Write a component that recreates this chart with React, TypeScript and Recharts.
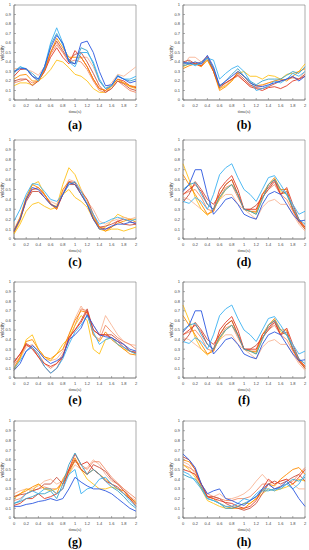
import React from 'react';
import { LineChart, Line, XAxis, YAxis, ReferenceArea } from 'recharts';

const times = [0, 0.1, 0.2, 0.3, 0.4, 0.5, 0.6, 0.7, 0.8, 0.9, 1, 1.1, 1.2, 1.3, 1.4, 1.5, 1.6, 1.7, 1.8, 1.9, 2];
const xTicks = [0, 0.2, 0.4, 0.6, 0.8, 1, 1.2, 1.4, 1.6, 1.8, 2];
const yTicks = [0, 0.1, 0.2, 0.3, 0.4, 0.5, 0.6, 0.7, 0.8, 0.9, 1];
const panelLabels = ['(a)', '(b)', '(c)', '(d)', '(e)', '(f)', '(g)', '(h)'];

const COLORS: Record<string, string> = {
  blue: '#2b57e0',
  sky: '#3cb2f2',
  yellow: '#ffc21a',
  orange: '#ff8c00',
  red: '#e23a26',
  peach: '#f8b596',
  brown: '#c9503f',
  salmon: '#f08a66',
  teal: '#3aa3c8',
};

type S = { c: string; v: number[] };

const panelA: S[] = [
  { c: 'peach', v: [0.33,0.33,0.32,0.3,0.26,0.35,0.55,0.6,0.5,0.4,0.38,0.45,0.45,0.35,0.2,0.12,0.18,0.27,0.25,0.3,0.35] },
  { c: 'yellow', v: [0.15,0.18,0.18,0.16,0.2,0.25,0.32,0.42,0.4,0.34,0.27,0.25,0.2,0.12,0.08,0.08,0.14,0.2,0.18,0.14,0.12] },
  { c: 'salmon', v: [0.18,0.2,0.22,0.18,0.2,0.3,0.48,0.58,0.5,0.4,0.42,0.4,0.32,0.2,0.1,0.08,0.12,0.2,0.15,0.1,0.08] },
  { c: 'brown', v: [0.2,0.22,0.22,0.15,0.2,0.32,0.5,0.62,0.52,0.42,0.48,0.5,0.4,0.28,0.15,0.08,0.12,0.2,0.17,0.12,0.1] },
  { c: 'red', v: [0.25,0.32,0.33,0.25,0.2,0.3,0.45,0.55,0.45,0.38,0.52,0.45,0.35,0.22,0.12,0.1,0.15,0.22,0.2,0.15,0.13] },
  { c: 'orange', v: [0.22,0.26,0.27,0.2,0.2,0.32,0.5,0.65,0.55,0.45,0.45,0.45,0.35,0.22,0.12,0.1,0.15,0.22,0.18,0.15,0.14] },
  { c: 'teal', v: [0.3,0.35,0.32,0.28,0.22,0.33,0.58,0.7,0.58,0.42,0.38,0.55,0.52,0.38,0.2,0.12,0.15,0.26,0.22,0.2,0.22] },
  { c: 'sky', v: [0.28,0.35,0.33,0.25,0.2,0.35,0.6,0.76,0.6,0.4,0.35,0.5,0.5,0.4,0.22,0.12,0.15,0.25,0.22,0.22,0.25] },
  { c: 'blue', v: [0.3,0.33,0.33,0.25,0.22,0.35,0.55,0.68,0.6,0.4,0.38,0.6,0.62,0.5,0.3,0.15,0.16,0.25,0.22,0.18,0.2] },
];

const panelB: S[] = [
  { c: 'peach', v: [0.35,0.45,0.45,0.4,0.44,0.32,0.12,0.16,0.22,0.25,0.2,0.15,0.14,0.15,0.18,0.2,0.2,0.22,0.23,0.22,0.3] },
  { c: 'yellow', v: [0.35,0.38,0.4,0.36,0.42,0.3,0.12,0.15,0.2,0.28,0.3,0.25,0.25,0.22,0.26,0.25,0.22,0.27,0.28,0.3,0.38] },
  { c: 'orange', v: [0.33,0.36,0.38,0.35,0.42,0.3,0.1,0.14,0.2,0.3,0.25,0.18,0.15,0.16,0.18,0.2,0.22,0.2,0.25,0.3,0.33] },
  { c: 'red', v: [0.38,0.4,0.38,0.36,0.45,0.3,0.13,0.18,0.22,0.26,0.2,0.14,0.12,0.1,0.13,0.14,0.12,0.15,0.2,0.22,0.25] },
  { c: 'brown', v: [0.4,0.42,0.38,0.4,0.46,0.33,0.15,0.18,0.22,0.28,0.22,0.16,0.13,0.12,0.14,0.17,0.2,0.22,0.24,0.22,0.27] },
  { c: 'teal', v: [0.36,0.38,0.37,0.38,0.44,0.33,0.14,0.2,0.27,0.33,0.25,0.2,0.16,0.2,0.22,0.22,0.22,0.26,0.3,0.28,0.35] },
  { c: 'sky', v: [0.38,0.4,0.36,0.4,0.44,0.42,0.22,0.28,0.33,0.36,0.3,0.2,0.1,0.12,0.15,0.2,0.18,0.22,0.28,0.25,0.3] },
  { c: 'blue', v: [0.4,0.38,0.4,0.38,0.47,0.35,0.15,0.2,0.25,0.3,0.25,0.18,0.15,0.14,0.16,0.18,0.2,0.22,0.25,0.2,0.25] },
];

const panelC: S[] = [
  { c: 'yellow', v: [0.05,0.15,0.28,0.35,0.37,0.33,0.3,0.32,0.45,0.5,0.42,0.38,0.32,0.2,0.1,0.12,0.18,0.25,0.22,0.2,0.2] },
  { c: 'yellow', v: [0.06,0.18,0.4,0.55,0.58,0.45,0.35,0.33,0.55,0.72,0.65,0.5,0.38,0.22,0.1,0.08,0.1,0.1,0.08,0.1,0.12] },
  { c: 'peach', v: [0.1,0.22,0.42,0.5,0.5,0.44,0.38,0.35,0.48,0.6,0.58,0.5,0.38,0.3,0.18,0.15,0.18,0.2,0.22,0.2,0.22] },
  { c: 'brown', v: [0.09,0.2,0.38,0.48,0.48,0.42,0.35,0.32,0.45,0.55,0.55,0.48,0.4,0.25,0.12,0.13,0.15,0.18,0.15,0.14,0.15] },
  { c: 'red', v: [0.07,0.2,0.4,0.5,0.52,0.45,0.36,0.3,0.45,0.58,0.57,0.45,0.35,0.2,0.12,0.1,0.12,0.18,0.2,0.18,0.15] },
  { c: 'orange', v: [0.08,0.22,0.42,0.55,0.52,0.45,0.35,0.3,0.5,0.58,0.55,0.45,0.35,0.22,0.12,0.08,0.12,0.16,0.18,0.2,0.17] },
  { c: 'sky', v: [0.18,0.3,0.45,0.56,0.55,0.48,0.4,0.38,0.45,0.55,0.58,0.48,0.35,0.25,0.15,0.17,0.2,0.22,0.2,0.18,0.2] },
  { c: 'blue', v: [0.08,0.2,0.4,0.52,0.5,0.42,0.35,0.32,0.45,0.57,0.55,0.45,0.35,0.2,0.1,0.1,0.13,0.15,0.15,0.17,0.16] },
];

const panelD: S[] = [
  { c: 'peach', v: [0.42,0.4,0.35,0.3,0.25,0.3,0.4,0.45,0.45,0.35,0.3,0.25,0.2,0.32,0.38,0.4,0.35,0.35,0.25,0.15,0.08] },
  { c: 'salmon', v: [0.45,0.48,0.5,0.42,0.3,0.28,0.42,0.52,0.55,0.42,0.3,0.28,0.28,0.42,0.5,0.55,0.45,0.4,0.28,0.17,0.1] },
  { c: 'yellow', v: [0.76,0.6,0.42,0.3,0.24,0.3,0.4,0.5,0.55,0.45,0.3,0.28,0.25,0.4,0.55,0.6,0.48,0.45,0.3,0.2,0.1] },
  { c: 'orange', v: [0.65,0.55,0.45,0.35,0.25,0.28,0.45,0.55,0.6,0.45,0.3,0.28,0.27,0.45,0.55,0.62,0.5,0.5,0.3,0.18,0.12] },
  { c: 'brown', v: [0.37,0.45,0.58,0.5,0.4,0.35,0.45,0.55,0.6,0.45,0.3,0.3,0.34,0.42,0.5,0.58,0.45,0.48,0.3,0.18,0.1] },
  { c: 'red', v: [0.45,0.5,0.55,0.48,0.35,0.3,0.5,0.58,0.64,0.5,0.3,0.3,0.3,0.45,0.52,0.6,0.45,0.52,0.35,0.2,0.12] },
  { c: 'teal', v: [0.5,0.55,0.57,0.45,0.35,0.3,0.42,0.5,0.55,0.45,0.3,0.28,0.25,0.4,0.55,0.6,0.5,0.45,0.32,0.2,0.15] },
  { c: 'sky', v: [0.38,0.36,0.42,0.38,0.3,0.45,0.65,0.72,0.76,0.62,0.5,0.45,0.38,0.5,0.62,0.64,0.55,0.45,0.35,0.25,0.28] },
  { c: 'blue', v: [0.48,0.55,0.7,0.7,0.45,0.25,0.32,0.4,0.42,0.35,0.25,0.22,0.2,0.35,0.45,0.48,0.45,0.35,0.25,0.18,0.19] },
];

const panelE: S[] = [
  { c: 'peach', v: [0.12,0.2,0.32,0.35,0.28,0.2,0.18,0.2,0.28,0.45,0.62,0.75,0.65,0.55,0.45,0.65,0.55,0.45,0.38,0.35,0.34] },
  { c: 'salmon', v: [0.14,0.22,0.34,0.32,0.25,0.15,0.1,0.15,0.25,0.38,0.55,0.72,0.7,0.45,0.4,0.55,0.48,0.42,0.38,0.35,0.3] },
  { c: 'yellow', v: [0.08,0.2,0.4,0.45,0.3,0.22,0.18,0.25,0.35,0.42,0.55,0.65,0.6,0.3,0.25,0.4,0.42,0.35,0.3,0.28,0.25] },
  { c: 'orange', v: [0.1,0.22,0.38,0.4,0.3,0.22,0.2,0.25,0.3,0.45,0.6,0.7,0.68,0.45,0.38,0.48,0.4,0.35,0.3,0.25,0.24] },
  { c: 'brown', v: [0.16,0.25,0.36,0.32,0.22,0.12,0.05,0.1,0.22,0.42,0.5,0.6,0.72,0.5,0.45,0.45,0.45,0.4,0.35,0.28,0.27] },
  { c: 'red', v: [0.17,0.25,0.35,0.3,0.22,0.15,0.12,0.15,0.22,0.42,0.5,0.58,0.7,0.5,0.45,0.45,0.42,0.38,0.32,0.28,0.26] },
  { c: 'sky', v: [0.1,0.18,0.28,0.32,0.25,0.12,0.05,0.1,0.2,0.35,0.48,0.55,0.65,0.48,0.35,0.4,0.42,0.35,0.32,0.28,0.25] },
  { c: 'blue', v: [0.08,0.15,0.28,0.34,0.28,0.2,0.15,0.18,0.22,0.4,0.45,0.52,0.66,0.55,0.45,0.43,0.42,0.38,0.35,0.3,0.28] },
];

const panelF: S[] = panelD;

const panelG: S[] = [
  { c: 'peach', v: [0.25,0.28,0.3,0.3,0.33,0.38,0.4,0.35,0.38,0.45,0.55,0.5,0.52,0.6,0.55,0.45,0.38,0.35,0.3,0.22,0.18] },
  { c: 'salmon', v: [0.18,0.2,0.25,0.28,0.3,0.32,0.3,0.3,0.38,0.5,0.58,0.55,0.5,0.58,0.58,0.5,0.42,0.36,0.3,0.25,0.2] },
  { c: 'yellow', v: [0.2,0.25,0.3,0.28,0.35,0.3,0.28,0.3,0.35,0.45,0.6,0.5,0.4,0.35,0.3,0.3,0.32,0.3,0.25,0.2,0.17] },
  { c: 'orange', v: [0.22,0.25,0.28,0.32,0.35,0.3,0.3,0.25,0.4,0.5,0.62,0.5,0.45,0.5,0.45,0.4,0.35,0.3,0.28,0.2,0.14] },
  { c: 'brown', v: [0.22,0.24,0.25,0.28,0.3,0.35,0.35,0.42,0.35,0.48,0.6,0.5,0.45,0.55,0.52,0.48,0.4,0.35,0.28,0.22,0.15] },
  { c: 'red', v: [0.13,0.15,0.2,0.2,0.25,0.2,0.22,0.25,0.3,0.5,0.66,0.55,0.58,0.5,0.45,0.38,0.35,0.32,0.25,0.2,0.12] },
  { c: 'sky', v: [0.15,0.18,0.25,0.28,0.25,0.3,0.3,0.25,0.3,0.45,0.5,0.25,0.3,0.32,0.4,0.42,0.35,0.3,0.25,0.18,0.12] },
  { c: 'teal', v: [0.15,0.17,0.2,0.22,0.25,0.25,0.28,0.2,0.35,0.55,0.67,0.55,0.45,0.5,0.45,0.38,0.32,0.28,0.22,0.15,0.1] },
  { c: 'blue', v: [0.12,0.12,0.14,0.15,0.17,0.18,0.2,0.18,0.2,0.3,0.42,0.37,0.33,0.3,0.3,0.28,0.25,0.2,0.15,0.1,0.07] },
];

const panelH: S[] = [
  { c: 'peach', v: [0.58,0.55,0.45,0.3,0.2,0.22,0.25,0.2,0.2,0.22,0.25,0.3,0.38,0.45,0.38,0.35,0.38,0.4,0.35,0.3,0.3] },
  { c: 'salmon', v: [0.55,0.52,0.48,0.35,0.25,0.22,0.2,0.18,0.18,0.2,0.2,0.22,0.28,0.35,0.35,0.3,0.33,0.35,0.38,0.45,0.52] },
  { c: 'yellow', v: [0.55,0.5,0.42,0.3,0.18,0.15,0.12,0.1,0.1,0.12,0.15,0.15,0.2,0.25,0.3,0.28,0.3,0.32,0.35,0.4,0.38] },
  { c: 'orange', v: [0.6,0.58,0.5,0.32,0.22,0.2,0.15,0.12,0.1,0.1,0.1,0.15,0.2,0.28,0.35,0.33,0.4,0.45,0.5,0.52,0.45] },
  { c: 'brown', v: [0.63,0.6,0.5,0.35,0.22,0.22,0.2,0.15,0.12,0.1,0.08,0.1,0.15,0.25,0.35,0.38,0.35,0.38,0.42,0.45,0.38] },
  { c: 'red', v: [0.5,0.48,0.45,0.35,0.22,0.2,0.18,0.16,0.15,0.12,0.1,0.12,0.18,0.3,0.4,0.35,0.38,0.4,0.35,0.42,0.5] },
  { c: 'teal', v: [0.45,0.42,0.4,0.32,0.2,0.18,0.15,0.1,0.1,0.12,0.15,0.18,0.22,0.28,0.28,0.3,0.3,0.35,0.4,0.38,0.42] },
  { c: 'sky', v: [0.48,0.45,0.38,0.3,0.2,0.18,0.15,0.12,0.12,0.15,0.2,0.18,0.25,0.3,0.3,0.28,0.32,0.35,0.3,0.35,0.45] },
  { c: 'blue', v: [0.66,0.6,0.52,0.35,0.25,0.28,0.3,0.2,0.18,0.15,0.13,0.18,0.22,0.3,0.35,0.3,0.32,0.38,0.3,0.2,0.12] },
];

const panels = [panelA, panelB, panelC, panelD, panelE, panelF, panelG, panelH];

const colLeft = [14, 183];
const colCenter = [75, 244];
const rowTop = [5, 140, 282, 421];
const rowBottom = [100, 239, 378, 518];
const rowLabelY = [125, 262, 400, 542];

const PLOT_W = 122;
const YAXIS_W = 12;
const XAXIS_H = 14;
const M_TOP = 2;
const M_RIGHT = 2;

function buildData(series: S[]) {
  return times.map((t, i) => {
    const row: Record<string, number> = { t };
    series.forEach((s, k) => {
      row['s' + k] = s.v[i];
    });
    return row;
  });
}

function Panel({ idx }: { idx: number }) {
  const col = idx % 2;
  const row = Math.floor(idx / 2);
  const series = panels[idx];
  const plotH = rowBottom[row] - rowTop[row];
  const left = colLeft[col] - YAXIS_W;
  const top = rowTop[row] - M_TOP;
  const width = YAXIS_W + PLOT_W + M_RIGHT;
  const height = M_TOP + plotH + XAXIS_H;
  const data = buildData(series);
  const tickStyle = { fontSize: 4, fill: '#444', fontFamily: 'Liberation Sans, Arial, sans-serif' };
  return (
    <>
      <div style={{ position: 'absolute', left, top, width, height }}>
        <LineChart width={width} height={height} data={data} margin={{ top: M_TOP, right: M_RIGHT, left: 0, bottom: 0 }}>
          <XAxis
            dataKey="t"
            type="number"
            domain={[0, 2]}
            ticks={xTicks}
            tick={tickStyle}
            tickSize={-2}
            tickMargin={6}
            height={XAXIS_H}
            axisLine={{ stroke: '#777', strokeWidth: 0.6 }}
            tickLine={{ stroke: '#777', strokeWidth: 0.6 }}
            interval={0}
            label={{ value: 'time(s)', position: 'insideBottom', offset: 1, fontSize: 4.5, fill: '#333' }}
          />
          <YAxis
            type="number"
            domain={[0, 1]}
            ticks={yTicks}
            tick={tickStyle}
            tickSize={-2}
            tickMargin={5}
            width={YAXIS_W}
            axisLine={{ stroke: '#777', strokeWidth: 0.6 }}
            tickLine={{ stroke: '#777', strokeWidth: 0.6 }}
            interval={0}
          />
          <ReferenceArea x1={0} x2={2} y1={0} y2={1} fill="none" stroke="#777" strokeWidth={0.6} ifOverflow="visible" />
          {series.map((s, k) => (
            <Line
              key={k}
              dataKey={'s' + k}
              stroke={COLORS[s.c]}
              strokeWidth={0.9}
              dot={false}
              type="linear"
              isAnimationActive={false}
            />
          ))}
        </LineChart>
      </div>
      <div
        style={{
          position: 'absolute',
          left: colLeft[col] - 11,
          top: rowTop[row] + plotH / 2,
          width: 0,
          height: 0,
        }}
      >
        <div
          style={{
            position: 'absolute',
            left: -20,
            top: -3,
            width: 40,
            textAlign: 'center',
            fontSize: 4.5,
            lineHeight: '6px',
            color: '#333',
            fontFamily: 'Liberation Sans, Arial, sans-serif',
            transform: 'rotate(-90deg)',
          }}
        >
          velocity
        </div>
      </div>
      <div
        style={{
          position: 'absolute',
          left: colCenter[col] - 20,
          top: rowLabelY[row] - 8,
          width: 40,
          textAlign: 'center',
          fontSize: 12,
          lineHeight: '16px',
          fontWeight: 'bold',
          fontFamily: '"Liberation Serif", "Times New Roman", serif',
          color: '#000',
        }}
      >
        {panelLabels[idx]}
      </div>
    </>
  );
}

export default function App() {
  return (
    <div style={{ position: 'absolute', left: 0, top: 0, width: 309, height: 550, background: '#fff', overflow: 'hidden' }}>
      {panels.map((_, i) => (
        <Panel key={i} idx={i} />
      ))}
    </div>
  );
}
